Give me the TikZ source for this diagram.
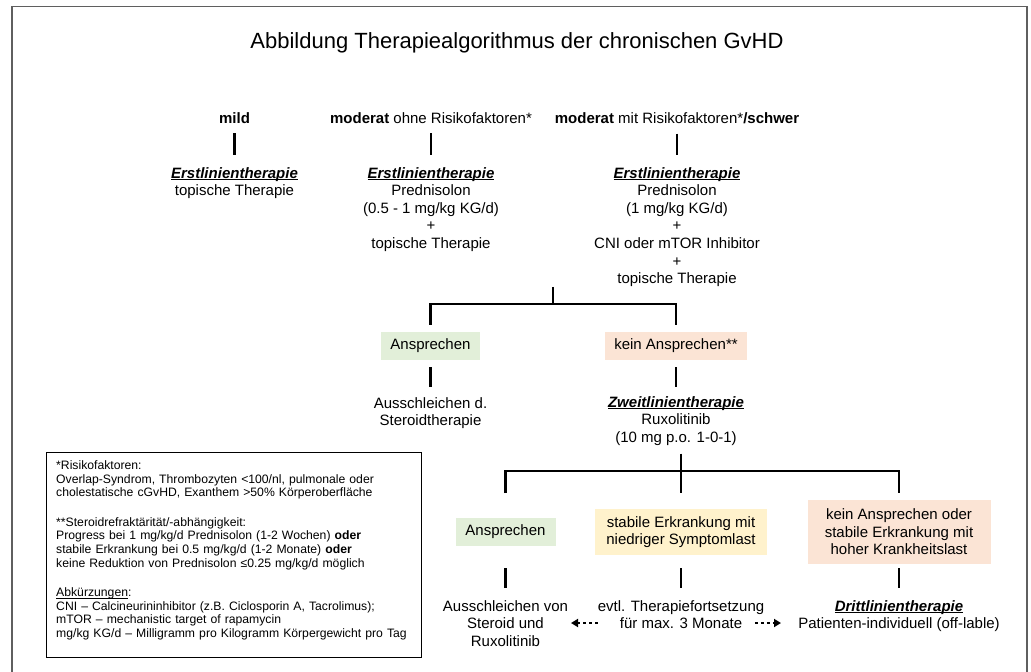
\documentclass[tikz,border=0pt]{standalone}
\usepackage{fontspec}
\setmainfont{Liberation Sans}
\usetikzlibrary{arrows.meta}
\definecolor{ansgreen}{HTML}{E2EFD9}
\definecolor{keinpeach}{HTML}{FBE4D5}
\definecolor{stabyellow}{HTML}{FFF2CC}
\definecolor{framegray}{HTML}{5F5F5F}
\newcommand{\ulbf}[1]{\underline{\smash{\textbf{\textit{#1}}}}\vphantom{\textbf{Eh}}}
\begin{document}
\begin{tikzpicture}[x=1pt,y=-1pt,
            txt/.style={inner sep=0pt,align=center,font=\fontsize{15}{17.6}\selectfont},
            box/.style={txt,minimum height=28pt},
            tree/.style={line width=2.8pt},
            legendtxt/.style={inner sep=0pt,text width=355pt,align=left,font=\fontsize{12.2}{13.6}\selectfont},
            dotarrow/.style={line width=2.8pt,dash pattern=on 2.8pt off 3.2pt,-{Triangle[length=7pt,width=8pt]}}]
            \useasboundingbox (0,0) rectangle (1031,672);
            \draw[framegray,line width=1.5pt] (12,672) -- (12,6.5) -- (1027,6.5) -- (1027,672);

            \node[font=\fontsize{22}{26}\selectfont,anchor=base] (title) at (517,48.5) {Abbildung Therapiealgorithmus der chronischen GvHD};

            \node[txt,anchor=base] (mild) at (234.5,123) {\textbf{mild}};
            \node[txt,anchor=base] (mod) at (431,123) {\textbf{moderat} ohne Risikofaktoren*};
            \node[txt,anchor=base] (schwer) at (677,123) {\textbf{moderat} mit Risikofaktoren*\textbf{/schwer}};

            \node[txt,anchor=base] (e1) at (234.5,195.6) {\ulbf{Erstlinientherapie}\\topische Therapie};
            \node[txt,anchor=base] (e2) at (431,248.4) {\ulbf{Erstlinientherapie}\\Prednisolon\\(0.5 - 1 mg/kg KG/d)\\+\\topische Therapie};
            \node[txt,anchor=base] (e3) at (677,283.6) {\ulbf{Erstlinientherapie}\\Prednisolon\\(1 mg/kg KG/d)\\+\\CNI oder mTOR Inhibitor\\+\\topische Therapie};

            \draw[tree,shorten <=10pt,shorten >=12pt] (mild.south) -- (e1.north);
            \draw[tree,shorten <=10pt,shorten >=12pt] (mod.south) -- (e2.north);
            \draw[tree,shorten <=10pt,shorten >=12pt] (schwer.south) -- (e3.north);

            \node[box,fill=ansgreen,minimum width=99pt] (ans1) at (430.5,346) {Ansprechen};
            \node[box,fill=keinpeach,minimum width=142pt] (kein1) at (676,346) {kein Ansprechen**};

            \coordinate (split1) at (553,304);
            \draw[tree] (split1 |- e3.south) -- (split1);
            \draw[tree] ([yshift=7pt]ans1.north) |- (split1) -| ([yshift=7pt]kein1.north);

            \node[txt,anchor=base] (auss1) at (430.5,425.6) {Ausschleichen d.\\Steroidtherapie};
            \node[txt,anchor=base] (zweit) at (676,442.2) {\ulbf{Zweitlinientherapie}\\Ruxolitinib\\(10 mg p.o. 1-0-1)};
            \draw[tree,shorten <=7pt,shorten >=10pt] (ans1.south) -- (auss1.north);
            \draw[tree,shorten <=7pt,shorten >=9pt] (kein1.south) -- (zweit.north);

            \node[box,fill=ansgreen,minimum width=100pt] (ans2) at (505.5,532) {Ansprechen};
            \node[box,fill=stabyellow,minimum width=172pt,minimum height=46pt] (stab) at (681,532) {stabile Erkrankung mit\\niedriger Symptomlast};
            \node[box,fill=keinpeach,minimum width=183pt,minimum height=64pt] (kein2) at (899,532) {kein Ansprechen oder\\stabile Erkrankung mit\\hoher Krankheitslast};

            \coordinate (split2) at (681,471);
            \coordinate (legs2) at (681,493);
            \draw[tree] ([yshift=-8pt]split2 |- zweit.south) -- (legs2);
            \draw[tree] (legs2 -| ans2) |- (split2) -| (legs2 -| kein2);

            \node[txt,anchor=base] (auss2) at (505.5,646.2) {Ausschleichen von\\Steroid und\\Ruxolitinib};
            \node[txt,anchor=base] (evtl) at (681,628.6) {evtl. Therapiefortsetzung\\für max. 3 Monate};
            \node[txt,anchor=base] (dritt) at (899,628.6) {\ulbf{Drittlinientherapie}\\Patienten-individuell (off-lable)};

            \coordinate (stems3) at (0,568);
            \draw[tree,shorten >=12pt] (stems3 -| auss2) -- (auss2.north);
            \draw[tree,shorten >=12pt] (stems3 -| evtl) -- (evtl.north);
            \draw[tree,shorten >=12pt] (stems3 -| dritt) -- (dritt.north);

            \coordinate (arrL) at (571,623);
            \coordinate (arrR) at (781,623);
            \draw[dotarrow] (evtl.west |- arrL) -- (arrL);
            \draw[dotarrow] (evtl.east |- arrR) ++(-9.5,0) -- (arrR);

            \node[legendtxt,anchor=base west] (legend) at (56,469.5) {*Risikofaktoren:\\Overlap-Syndrom, Thrombozyten <100/nl, pulmonale oder\\cholestatische cGvHD, Exanthem >50\% Körperoberfläche\\[16pt]**Steroidrefraktärität/-abhängigkeit:\\Progress bei 1 mg/kg/d Prednisolon (1-2 Wochen) \textbf{oder}\\stabile Erkrankung bei 0.5 mg/kg/d (1-2 Monate) \textbf{oder}\\keine Reduktion von Prednisolon ≤0.25 mg/kg/d möglich\\[16pt]\underline{\smash{Abkürzungen}}:\\CNI – Calcineurininhibitor (z.B. Ciclosporin A, Tacrolimus);\\mTOR – mechanistic target of rapamycin\\mg/kg KG/d – Milligramm pro Kilogramm Körpergewicht pro Tag};
            \draw[line width=0.8pt] ([shift={(-10pt,8.5pt)}]legend.north west) rectangle ([shift={(10pt,-17pt)}]legend.south east);
\end{tikzpicture}
\end{document}
